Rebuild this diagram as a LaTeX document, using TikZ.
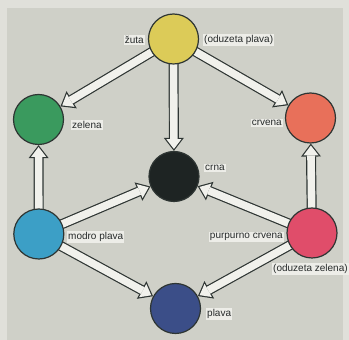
\documentclass[tikz,border=0pt]{standalone}
\usepackage{fontspec}
\setsansfont{Liberation Sans}
\usetikzlibrary{arrows.meta,positioning}
\definecolor{outerpale}{HTML}{E0E0DA}
\definecolor{panelgray}{HTML}{CFD0C8}
\definecolor{edgedark}{HTML}{2E3533}
\definecolor{shaftwhite}{HTML}{F1F1EC}
\definecolor{labelwhite}{HTML}{EDEDE8}
\definecolor{inkdark}{HTML}{262A2A}
\definecolor{zutacol}{HTML}{DCCB58}
\definecolor{zelenacol}{HTML}{3A9A5E}
\definecolor{crvenacol}{HTML}{E8705A}
\definecolor{crnacol}{HTML}{1E2423}
\definecolor{modrocol}{HTML}{3C9FC6}
\definecolor{purpurcol}{HTML}{E04D6A}
\definecolor{plavacol}{HTML}{3B4E88}
\pgfdeclarelayer{bglayer}
\pgfdeclarelayer{arrlayer}
\pgfsetlayers{bglayer,arrlayer,main}
\tikzset{
  disc/.style={circle, draw=edgedark, line width=1.2pt, minimum size=50pt, inner sep=0pt},
  lbl/.style={font=\sffamily\fontsize{10}{12}\selectfont, text=inkdark, fill=labelwhite, inner sep=1pt},
  arrouter/.style={draw=edgedark, line width=10pt, -{Triangle[length=13pt,width=20pt,line width=0pt]}},
  arrinner/.style={draw=shaftwhite, line width=7.6pt, shorten >=1.97pt, -{Triangle[length=9.8pt,width=15.1pt,line width=0pt]}},
}
\newcommand\hollowarrow[2]{%
  \draw[arrouter] (#1.center) -- (#2);
  \draw[arrinner] (#1.center) -- (#2);}

\begin{document}
\begin{tikzpicture}[x=1pt,y=1pt]
  \useasboundingbox (0,0) rectangle (349,340);
  \begin{pgfonlayer}{bglayer}
    \fill[outerpale] (0,0) rectangle (349,340);
    \fill[panelgray] (7,0) rectangle (343,332);
  \end{pgfonlayer}

  % colour discs
  \node[disc, fill=zutacol]   (zuta)   at (173.5,301) {};
  \node[disc, fill=zelenacol] (zelena) at (38.5,220.5) {};
  \node[disc, fill=crvenacol] (crvena) at (310.5,222) {};
  \node[disc, fill=crnacol]   (crna)   at (174,163.5) {};
  \node[disc, fill=modrocol]  (modro)  at (38.8,106) {};
  \node[disc, fill=purpurcol] (purpur) at (312,107) {};
  \node[disc, fill=plavacol]  (plava)  at (175.5,31.5) {};

  % labels
  \node[lbl, anchor=east] (lzuta)   at (145,300) {žuta};
  \node[lbl, anchor=west] (lzutab)  at (203,300) {(oduzeta plava)};
  \node[lbl, anchor=west] (lzelena) at (71,215)  {zelena};
  \node[lbl, anchor=east] (lcrvena) at (283,217) {crvena};
  \node[lbl, anchor=west] (lcrna)   at (204,172) {crna};
  \node[lbl, anchor=west] (lmodro)  at (67,103)  {modro plava};
  \node[lbl, anchor=east] (lpurpur) at (284,103) {purpurno crvena};
  \node[lbl, anchor=west] (lpurpurb) at (272,71) {(oduzeta zelena)};
  \node[lbl, anchor=west] (lplava)  at (206,26)  {plava};

  % hollow arrows
  \begin{pgfonlayer}{arrlayer}
    \hollowarrow{zuta}{zelena}
    \hollowarrow{zuta}{crvena}
    \hollowarrow{zuta}{crna}
    \hollowarrow{modro}{zelena}
    \hollowarrow{purpur}{crvena}
    \hollowarrow{modro}{crna}
    \hollowarrow{purpur}{crna}
    \hollowarrow{modro}{plava}
    \hollowarrow{purpur}{plava}
  \end{pgfonlayer}
\end{tikzpicture}
\end{document}
